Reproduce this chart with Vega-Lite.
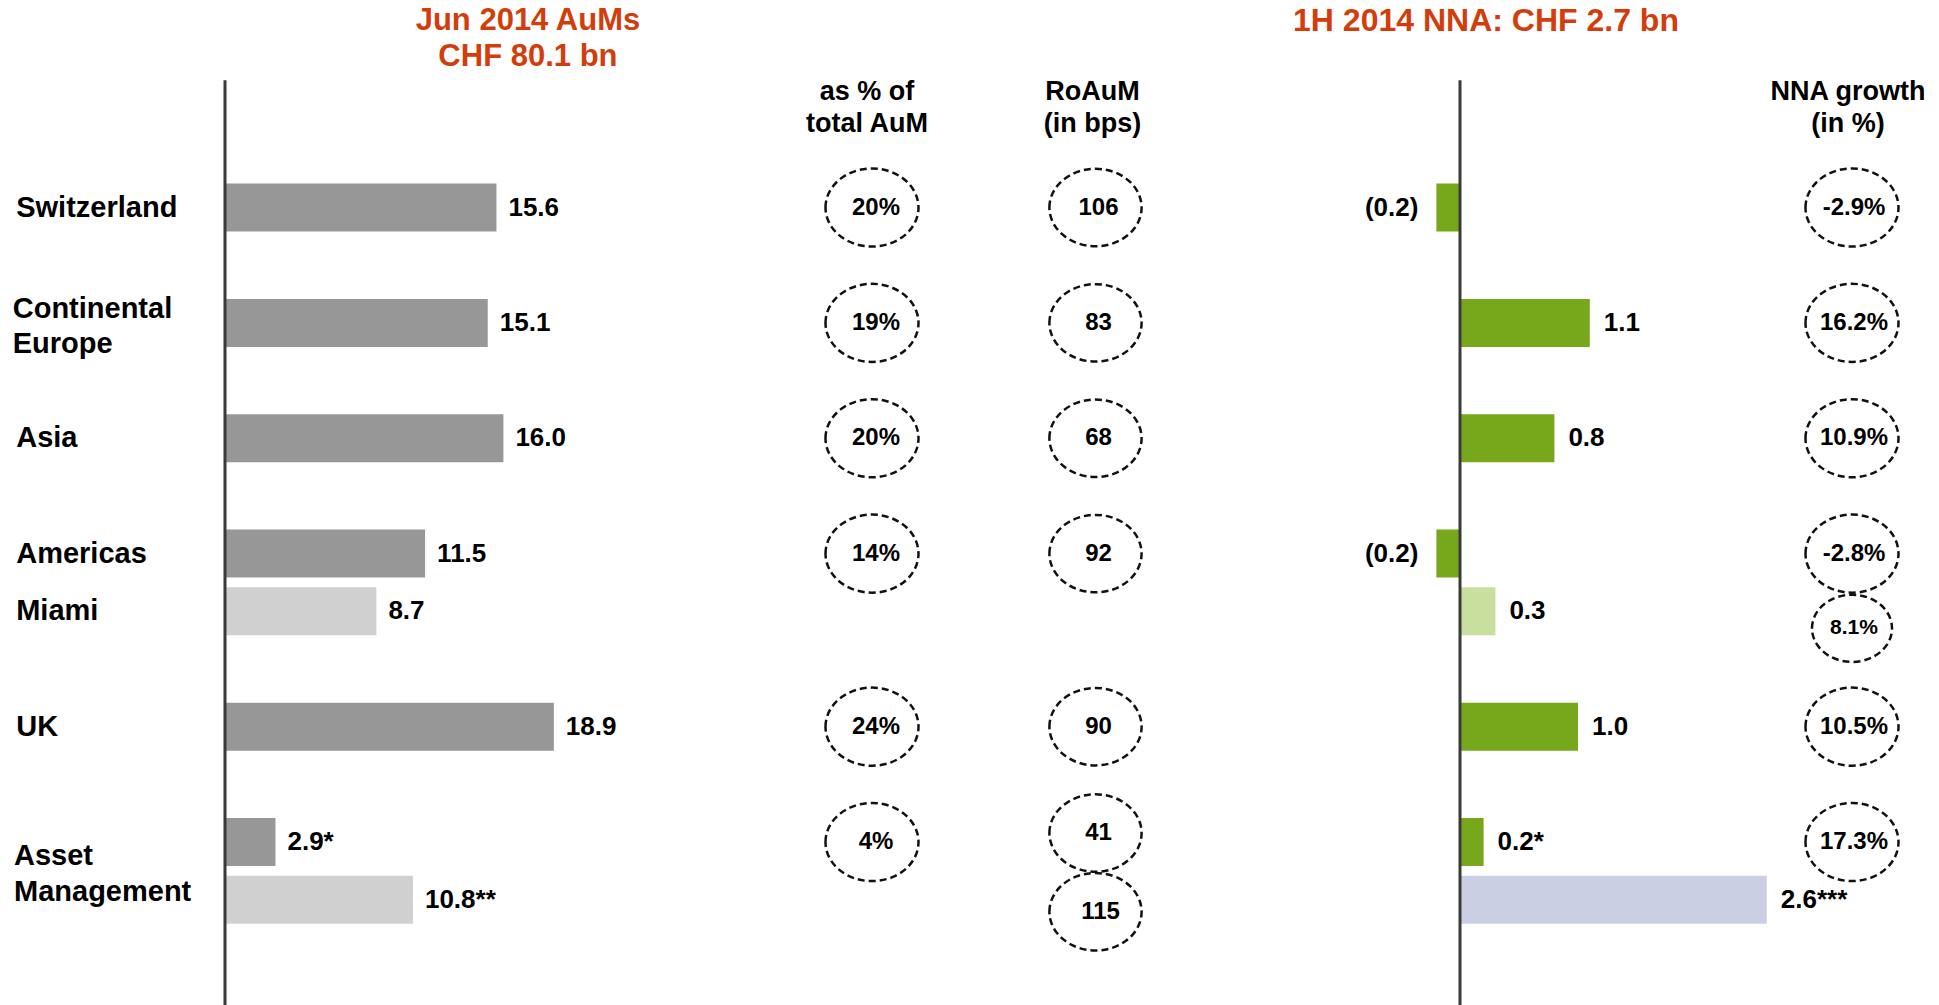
{
  "$schema": "https://vega.github.io/schema/vega-lite/v6.json",
  "padding": 0,
  "spacing": 0,
  "bounds": "flush",
  "config": {
    "view": {"stroke": null},
    "axis": {"disable": true},
    "text": {"font": "Liberation Sans", "fontWeight": "bold", "color": "#000000"},
    "concat": {"spacing": 0}
  },
  "resolve": {"scale": {"y": "independent", "x": "independent", "color": "independent"}},
  "datasets": {
    "aum": [
      {"row": "Switzerland", "aum": 15.6, "text": "15.6", "segment": "core"},
      {"row": "Continental Europe", "aum": 15.1, "text": "15.1", "segment": "core"},
      {"row": "Asia", "aum": 16.0, "text": "16.0", "segment": "core"},
      {"row": "Americas", "aum": 11.5, "text": "11.5", "segment": "core"},
      {"row": "Miami", "aum": 8.7, "text": "8.7", "segment": "other"},
      {"row": "UK", "aum": 18.9, "text": "18.9", "segment": "core"},
      {"row": "Asset Management", "aum": 2.9, "text": "2.9*", "segment": "core"},
      {"row": "Asset Management (other)", "aum": 10.8, "text": "10.8**", "segment": "other"}
    ],
    "labels": [
      {"row": "Switzerland", "label": "Switzerland"},
      {"row": "Continental Europe", "label": "Continental\nEurope"},
      {"row": "Asia", "label": "Asia"},
      {"row": "Americas", "label": "Americas"},
      {"row": "Miami", "label": "Miami"},
      {"row": "UK", "label": "UK"},
      {"row": "Asset Management", "label": "Asset\nManagement"}
    ],
    "titles": [
      {"panel": "left", "row": "title", "text": "Jun 2014 AuMs\nCHF 80.1 bn"},
      {"panel": "right", "row": "title", "text": "1H 2014 NNA: CHF 2.7 bn"}
    ],
    "headers": [
      {"panel": "pct", "row": "header", "text": "as % of\ntotal AuM"},
      {"panel": "roaum", "row": "header", "text": "RoAuM\n(in bps)"},
      {"panel": "growth", "row": "header", "text": "NNA growth\n(in %)"}
    ],
    "pct": [
      {"row": "Switzerland", "text": "20%"},
      {"row": "Continental Europe", "text": "19%"},
      {"row": "Asia", "text": "20%"},
      {"row": "Americas", "text": "14%"},
      {"row": "UK", "text": "24%"},
      {"row": "Asset Management", "text": "4%"}
    ],
    "roaum": [
      {"row": "Switzerland", "text": "106"},
      {"row": "Continental Europe", "text": "83"},
      {"row": "Asia", "text": "68"},
      {"row": "Americas", "text": "92"},
      {"row": "UK", "text": "90"},
      {"row": "Asset Management", "text": "41"},
      {"row": "Asset Management (other)", "text": "115"}
    ],
    "growth": [
      {"row": "Switzerland", "text": "-2.9%"},
      {"row": "Continental Europe", "text": "16.2%"},
      {"row": "Asia", "text": "10.9%"},
      {"row": "Americas", "text": "-2.8%"},
      {"row": "Miami", "text": "8.1%"},
      {"row": "UK", "text": "10.5%"},
      {"row": "Asset Management", "text": "17.3%"}
    ],
    "nna": [
      {"row": "Switzerland", "nna": -0.2, "text": "(0.2)", "segment": "core"},
      {"row": "Continental Europe", "nna": 1.1, "text": "1.1", "segment": "core"},
      {"row": "Asia", "nna": 0.8, "text": "0.8", "segment": "core"},
      {"row": "Americas", "nna": -0.2, "text": "(0.2)", "segment": "core"},
      {"row": "Miami", "nna": 0.3, "text": "0.3", "segment": "Miami"},
      {"row": "UK", "nna": 1.0, "text": "1.0", "segment": "core"},
      {"row": "Asset Management", "nna": 0.2, "text": "0.2*", "segment": "core"},
      {"row": "Asset Management (other)", "nna": 2.6, "text": "2.6***", "segment": "AM other"}
    ]
  },
  "hconcat": [
    {
      "width": 760,
      "height": 1005,
      "layer": [
        {
          "data": {"name": "aum"},
          "mark": {"type": "bar", "height": 48},
          "encoding": {
            "x": {"field": "aum", "type": "quantitative", "scale": {"domain": [-12.931, 30.747], "nice": false, "zero": false}, "axis": null},
            "y": {"field": "row", "type": "ordinal", "axis": null, "scale": {"type": "point", "domain": ["title", "header", "s1", "Switzerland", "s2", "Continental Europe", "s3", "Asia", "s4", "Americas", "Miami", "s5", "UK", "s6", "Asset Management", "Asset Management (other)", "b1"], "padding": 0.711, "align": 0.42}},
            "color": {"field": "segment", "type": "nominal", "legend": null, "scale": {"domain": ["core", "other"], "range": ["#979797", "#d0d0d0"]}}
          }
        },
        {
          "data": {"name": "aum"},
          "mark": {"type": "text", "align": "left", "baseline": "middle", "dx": 12, "fontSize": 26},
          "encoding": {
            "x": {"field": "aum", "type": "quantitative"},
            "y": {"field": "row", "type": "ordinal"},
            "text": {"field": "text"}
          }
        },
        {
          "data": {"name": "labels"},
          "transform": [{"filter": "datum.row !== 'Asset Management' && datum.row !== 'Continental Europe'"}],
          "mark": {"type": "text", "align": "left", "baseline": "middle", "fontSize": 29},
          "encoding": {
            "x": {"datum": -12.0, "type": "quantitative"},
            "y": {"field": "row", "type": "ordinal"},
            "text": {"field": "label"}
          }
        },
        {
          "data": {"name": "labels"},
          "transform": [{"filter": "datum.row === 'Continental Europe'"}],
          "mark": {"type": "text", "align": "left", "baseline": "middle", "fontSize": 29, "lineBreak": "\n", "lineHeight": 35, "dy": -14},
          "encoding": {
            "x": {"datum": -12.2, "type": "quantitative"},
            "y": {"field": "row", "type": "ordinal"},
            "text": {"field": "label"}
          }
        },
        {
          "data": {"name": "labels"},
          "transform": [{"filter": "datum.row === 'Asset Management'"}],
          "mark": {"type": "text", "align": "left", "baseline": "middle", "fontSize": 29, "lineBreak": "\n", "lineHeight": 36, "dy": 14},
          "encoding": {
            "x": {"datum": -12.126, "type": "quantitative"},
            "y": {"field": "row", "type": "ordinal"},
            "text": {"field": "label"}
          }
        },
        {
          "data": {"name": "titles"},
          "transform": [{"filter": "datum.panel === 'left'"}],
          "mark": {"type": "text", "align": "center", "baseline": "middle", "fontSize": 31, "lineBreak": "\n", "lineHeight": 36, "dy": -13, "color": "#d23d0b"},
          "encoding": {
            "x": {"datum": 17.41, "type": "quantitative"},
            "y": {"field": "row", "type": "ordinal"},
            "text": {"field": "text"}
          }
        },
        {
          "data": {"values": [{}]},
          "mark": {"type": "rule", "strokeWidth": 3, "color": "#3a3a3a", "yOffset": -12, "y2Offset": 48},
          "encoding": {
            "x": {"datum": 0, "type": "quantitative"},
            "y": {"datum": "header", "type": "ordinal"},
            "y2": {"datum": "b1"}
          }
        }
      ]
    },
    {
      "width": 224,
      "height": 1005,
      "layer": [
        {
          "data": {"name": "pct"},
          "mark": {"type": "point", "shape": "M-1,0C-1,-0.464,-0.5523,-0.84,0,-0.84C0.5523,-0.84,1,-0.464,1,0C1,0.464,0.5523,0.84,0,0.84C-0.5523,0.84,-1,0.464,-1,0Z", "size": 8649, "filled": false, "stroke": "#111111", "strokeWidth": 2.5, "strokeDash": [7, 4], "opacity": 1},
          "encoding": {
            "y": {"field": "row", "type": "ordinal", "axis": null, "scale": {"type": "point", "domain": ["title", "header", "s1", "Switzerland", "s2", "Continental Europe", "s3", "Asia", "s4", "Americas", "Miami", "s5", "UK", "s6", "Asset Management", "Asset Management (other)", "b1"], "padding": 0.711, "align": 0.42}}
          }
        },
        {
          "data": {"name": "pct"},
          "mark": {"type": "text", "align": "center", "baseline": "middle", "fontSize": 24, "dx": 4},
          "encoding": {
            "y": {"field": "row", "type": "ordinal"},
            "text": {"field": "text"}
          }
        },
        {
          "data": {"name": "headers"},
          "transform": [{"filter": "datum.panel === 'pct'"}],
          "mark": {"type": "text", "align": "center", "baseline": "middle", "fontSize": 27, "lineBreak": "\n", "lineHeight": 32, "dy": 0, "dx": -5},
          "encoding": {
            "y": {"field": "row", "type": "ordinal"},
            "text": {"field": "text"}
          }
        }
      ]
    },
    {
      "width": 223,
      "height": 1005,
      "layer": [
        {
          "data": {"name": "roaum"},
          "transform": [{"filter": "datum.row !== 'Asset Management' && datum.row !== 'Asset Management (other)'"}],
          "mark": {"type": "point", "shape": "M-1,0C-1,-0.464,-0.5523,-0.84,0,-0.84C0.5523,-0.84,1,-0.464,1,0C1,0.464,0.5523,0.84,0,0.84C-0.5523,0.84,-1,0.464,-1,0Z", "size": 8500, "filled": false, "stroke": "#111111", "strokeWidth": 2.5, "strokeDash": [7, 4], "opacity": 1},
          "encoding": {
            "y": {"field": "row", "type": "ordinal", "axis": null, "scale": {"type": "point", "domain": ["title", "header", "s1", "Switzerland", "s2", "Continental Europe", "s3", "Asia", "s4", "Americas", "Miami", "s5", "UK", "s6", "Asset Management", "Asset Management (other)", "b1"], "padding": 0.711, "align": 0.42}}
          }
        },
        {
          "data": {"name": "roaum"},
          "transform": [{"filter": "datum.row !== 'Asset Management' && datum.row !== 'Asset Management (other)'"}],
          "mark": {"type": "text", "align": "center", "baseline": "middle", "fontSize": 24, "dx": 3},
          "encoding": {
            "y": {"field": "row", "type": "ordinal"},
            "text": {"field": "text"}
          }
        },
        {
          "data": {"name": "roaum"},
          "transform": [{"filter": "datum.row === 'Asset Management'"}],
          "mark": {"type": "point", "shape": "M-1,0C-1,-0.464,-0.5523,-0.84,0,-0.84C0.5523,-0.84,1,-0.464,1,0C1,0.464,0.5523,0.84,0,0.84C-0.5523,0.84,-1,0.464,-1,0Z", "size": 8500, "filled": false, "stroke": "#111111", "strokeWidth": 2.5, "strokeDash": [7, 4], "opacity": 1, "yOffset": -9},
          "encoding": {
            "y": {"field": "row", "type": "ordinal"}
          }
        },
        {
          "data": {"name": "roaum"},
          "transform": [{"filter": "datum.row === 'Asset Management'"}],
          "mark": {"type": "text", "align": "center", "baseline": "middle", "fontSize": 24, "dx": 3, "yOffset": -9},
          "encoding": {
            "y": {"field": "row", "type": "ordinal"},
            "text": {"field": "text"}
          }
        },
        {
          "data": {"name": "roaum"},
          "transform": [{"filter": "datum.row === 'Asset Management (other)'"}],
          "mark": {"type": "point", "shape": "M-1,0C-1,-0.464,-0.5523,-0.84,0,-0.84C0.5523,-0.84,1,-0.464,1,0C1,0.464,0.5523,0.84,0,0.84C-0.5523,0.84,-1,0.464,-1,0Z", "size": 8500, "filled": false, "stroke": "#111111", "strokeWidth": 2.5, "strokeDash": [7, 4], "opacity": 1, "yOffset": 12},
          "encoding": {
            "y": {"field": "row", "type": "ordinal"}
          }
        },
        {
          "data": {"name": "roaum"},
          "transform": [{"filter": "datum.row === 'Asset Management (other)'"}],
          "mark": {"type": "text", "align": "center", "baseline": "middle", "fontSize": 24, "dx": 5, "yOffset": 12},
          "encoding": {
            "y": {"field": "row", "type": "ordinal"},
            "text": {"field": "text"}
          }
        },
        {
          "data": {"name": "headers"},
          "transform": [{"filter": "datum.panel === 'roaum'"}],
          "mark": {"type": "text", "align": "center", "baseline": "middle", "fontSize": 27, "lineBreak": "\n", "lineHeight": 32, "dy": 0, "dx": -3},
          "encoding": {
            "y": {"field": "row", "type": "ordinal"},
            "text": {"field": "text"}
          }
        }
      ]
    },
    {
      "width": 558,
      "height": 1005,
      "layer": [
        {
          "data": {"name": "nna"},
          "mark": {"type": "bar", "height": 48},
          "encoding": {
            "x": {"field": "nna", "type": "quantitative", "scale": {"domain": [-2.1441, 2.5847], "nice": false, "zero": false}, "axis": null},
            "x2": {"datum": 0},
            "y": {"field": "row", "type": "ordinal", "axis": null, "scale": {"type": "point", "domain": ["title", "header", "s1", "Switzerland", "s2", "Continental Europe", "s3", "Asia", "s4", "Americas", "Miami", "s5", "UK", "s6", "Asset Management", "Asset Management (other)", "b1"], "padding": 0.711, "align": 0.42}},
            "color": {"field": "segment", "type": "nominal", "legend": null, "scale": {"domain": ["core", "Miami", "AM other"], "range": ["#77a71b", "#c8df9e", "#cbcfe3"]}}
          }
        },
        {
          "data": {"name": "nna"},
          "transform": [{"filter": "datum.nna > 0"}],
          "mark": {"type": "text", "align": "left", "baseline": "middle", "dx": 14, "fontSize": 26},
          "encoding": {
            "x": {"field": "nna", "type": "quantitative"},
            "y": {"field": "row", "type": "ordinal"},
            "text": {"field": "text"}
          }
        },
        {
          "data": {"name": "nna"},
          "transform": [{"filter": "datum.nna < 0"}],
          "mark": {"type": "text", "align": "right", "baseline": "middle", "dx": -18, "fontSize": 26},
          "encoding": {
            "x": {"field": "nna", "type": "quantitative"},
            "y": {"field": "row", "type": "ordinal"},
            "text": {"field": "text"}
          }
        },
        {
          "data": {"name": "titles"},
          "transform": [{"filter": "datum.panel === 'right'"}],
          "mark": {"type": "text", "align": "center", "baseline": "middle", "fontSize": 32, "dy": -13, "color": "#d23d0b"},
          "encoding": {
            "y": {"field": "row", "type": "ordinal"},
            "text": {"field": "text"}
          }
        },
        {
          "data": {"values": [{}]},
          "mark": {"type": "rule", "strokeWidth": 3, "color": "#3a3a3a", "yOffset": -12, "y2Offset": 48},
          "encoding": {
            "x": {"datum": 0, "type": "quantitative"},
            "y": {"datum": "header", "type": "ordinal"},
            "y2": {"datum": "b1"}
          }
        }
      ]
    },
    {
      "width": 174,
      "height": 1005,
      "layer": [
        {
          "data": {"name": "growth"},
          "transform": [{"filter": "datum.row !== 'Miami'"}],
          "mark": {"type": "point", "shape": "M-1,0C-1,-0.464,-0.5523,-0.84,0,-0.84C0.5523,-0.84,1,-0.464,1,0C1,0.464,0.5523,0.84,0,0.84C-0.5523,0.84,-1,0.464,-1,0Z", "size": 8649, "filled": false, "stroke": "#111111", "strokeWidth": 2.5, "strokeDash": [7, 4], "opacity": 1},
          "encoding": {
            "y": {"field": "row", "type": "ordinal", "axis": null, "scale": {"type": "point", "domain": ["title", "header", "s1", "Switzerland", "s2", "Continental Europe", "s3", "Asia", "s4", "Americas", "Miami", "s5", "UK", "s6", "Asset Management", "Asset Management (other)", "b1"], "padding": 0.711, "align": 0.42}}
          }
        },
        {
          "data": {"name": "growth"},
          "transform": [{"filter": "datum.row !== 'Miami'"}],
          "mark": {"type": "text", "align": "center", "baseline": "middle", "fontSize": 24, "dx": 2},
          "encoding": {
            "y": {"field": "row", "type": "ordinal"},
            "text": {"field": "text"}
          }
        },
        {
          "data": {"name": "growth"},
          "transform": [{"filter": "datum.row === 'Miami'"}],
          "mark": {"type": "point", "shape": "M-1,0C-1,-0.464,-0.5523,-0.84,0,-0.84C0.5523,-0.84,1,-0.464,1,0C1,0.464,0.5523,0.84,0,0.84C-0.5523,0.84,-1,0.464,-1,0Z", "size": 6400, "filled": false, "stroke": "#111111", "strokeWidth": 2.5, "strokeDash": [7, 4], "opacity": 1, "yOffset": 17},
          "encoding": {
            "y": {"field": "row", "type": "ordinal"}
          }
        },
        {
          "data": {"name": "growth"},
          "transform": [{"filter": "datum.row === 'Miami'"}],
          "mark": {"type": "text", "align": "center", "baseline": "middle", "fontSize": 21, "dx": 2, "yOffset": 17},
          "encoding": {
            "y": {"field": "row", "type": "ordinal"},
            "text": {"field": "text"}
          }
        },
        {
          "data": {"name": "headers"},
          "transform": [{"filter": "datum.panel === 'growth'"}],
          "mark": {"type": "text", "align": "center", "baseline": "middle", "fontSize": 27, "lineBreak": "\n", "lineHeight": 32, "dy": 0, "dx": -4},
          "encoding": {
            "y": {"field": "row", "type": "ordinal"},
            "text": {"field": "text"}
          }
        }
      ]
    }
  ]
}
